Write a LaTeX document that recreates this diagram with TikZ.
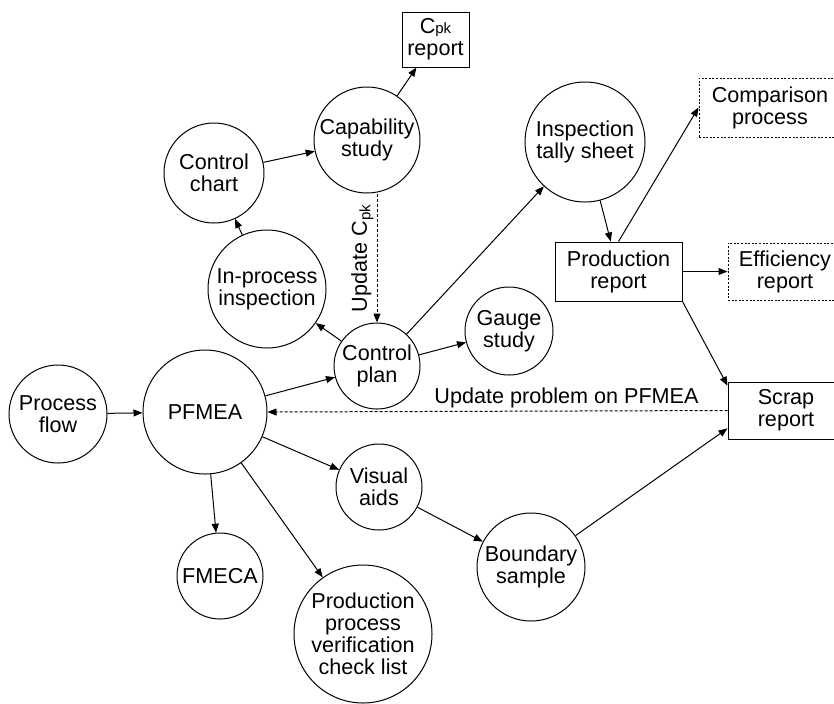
\documentclass[tikz,border=0pt]{standalone}
\usepackage{fontspec}
\setmainfont{Liberation Sans}
\usetikzlibrary{arrows.meta}
\definecolor{black}{RGB}{0,0,0}
\newcommand{\labelfont}{\fontsize{10.8}{11}\selectfont}
\newcommand{\pkfont}{\fontsize{7.5}{7.5}\selectfont}
\tikzset{
	bubble/.style={circle,draw=black,line width=0.5pt,inner sep=0pt,align=center,font=\labelfont},
	report/.style={rectangle,draw=black,line width=0.5pt,inner sep=0pt,align=center,font=\labelfont},
	outreport/.style={report,dash pattern=on 1pt off 0.8pt},
	arr/.style={black,-{Triangle[length=4.5pt,width=3.5pt]},line width=0.5pt},
	update/.style={arr,dash pattern=on 1.5pt off 1pt},
	note/.style={font=\labelfont,inner sep=1.5pt}
}
\begin{document}
\begin{tikzpicture}[x=0.5pt,y=-0.5pt]
	\useasboundingbox (0,0) rectangle (834,703);

	\node[bubble,minimum size=49pt] (procflow) at (58,414) {Process\\flow};
	\node[bubble,minimum size=62pt] (pfmea) at (205,412) {PFMEA};
	\node[bubble,minimum size=43pt] (cplan) at (377,366) {Control\\plan};
	\node[bubble,minimum size=44pt] (gauge) at (509,331) {Gauge\\study};
	\node[bubble,minimum size=59pt] (inproc) at (267,289) {In-process\\inspection};
	\node[bubble,minimum size=50pt] (cchart) at (214,173) {Control\\chart};
	\node[bubble,minimum size=53pt] (capstudy) at (367,140) {Capability\\study};
	\node[bubble,minimum size=60pt] (tally) at (585,142) {Inspection\\tally sheet};
	\node[bubble,minimum size=43pt] (visual) at (379,487) {Visual\\aids};
	\node[bubble,minimum size=54pt] (boundary) at (531,567) {Boundary\\sample};
	\node[bubble,minimum size=43pt] (fmeca) at (220,576) {FMECA};
	\node[bubble,minimum size=69pt] (ppvcl) at (363,634) {Production\\process\\verification\\check list};

	\node[report,minimum width=33.5pt,minimum height=27.5pt] (cpkrep) at (435.5,39.5) {C{\pkfont pk}\\report};
	\node[report,minimum width=63.5pt,minimum height=29.5pt] (prodrep) at (618.5,271.5) {Production\\report};
	\node[outreport,minimum width=71pt,minimum height=29.5pt] (comparison) at (770,107.5) {Comparison\\process};
	\node[outreport,minimum width=57pt,minimum height=28.5pt] (efficiency) at (785,271.5) {Efficiency\\report};
	\node[report,minimum width=58pt,minimum height=28.5pt] (scrap) at (786,410.5) {Scrap\\report};

	\foreach \a/\b in {procflow/pfmea,pfmea/cplan,pfmea/visual,pfmea/fmeca,pfmea/ppvcl,cplan/inproc,inproc/cchart,cchart/capstudy,capstudy/cpkrep,cplan/tally,cplan/gauge,tally/prodrep,prodrep/efficiency,visual/boundary}
		\draw[arr] (\a) -- (\b);
	\draw[arr] (prodrep.north) -- (comparison.west);
	\draw[arr] (prodrep.south east) -- (scrap.157);
	\draw[arr] (boundary) -- (scrap.197);

	% feedback lines
	\draw[update] (cplan.north |- capstudy.south) -- (cplan.north)
		node[note,midway,rotate=90,anchor=south] {Update C\textsubscript{pk}};
	\draw[update] (scrap.west) -- (pfmea.east)
		node[note,pos=0.35,above] {Update problem on PFMEA};
\end{tikzpicture}
\end{document}
